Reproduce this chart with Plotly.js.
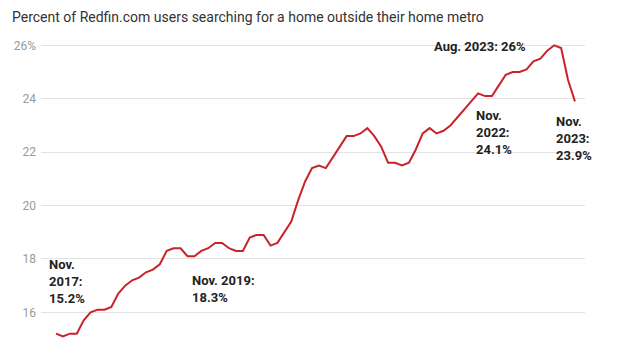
<!DOCTYPE html>
<html>
<head>
<meta charset="utf-8">
<script src="https://cdn.plot.ly/plotly-3.0.1.min.js"></script>
<style>html,body{margin:0;padding:0;background:#fff;}#chart{width:618px;height:357px;}</style>
</head>
<body>
<div id="chart"></div>
<script>
// Monthly, Aug 2017 – Nov 2023
const months = [
  "2017-08","2017-09","2017-10","2017-11","2017-12",
  "2018-01","2018-02","2018-03","2018-04","2018-05","2018-06","2018-07","2018-08","2018-09","2018-10","2018-11","2018-12",
  "2019-01","2019-02","2019-03","2019-04","2019-05","2019-06","2019-07","2019-08","2019-09","2019-10","2019-11","2019-12",
  "2020-01","2020-02","2020-03","2020-04","2020-05","2020-06","2020-07","2020-08","2020-09","2020-10","2020-11","2020-12",
  "2021-01","2021-02","2021-03","2021-04","2021-05","2021-06","2021-07","2021-08","2021-09","2021-10","2021-11","2021-12",
  "2022-01","2022-02","2022-03","2022-04","2022-05","2022-06","2022-07","2022-08","2022-09","2022-10","2022-11","2022-12",
  "2023-01","2023-02","2023-03","2023-04","2023-05","2023-06","2023-07","2023-08","2023-09","2023-10","2023-11"
];
const sharePct = [
  15.2,15.1,15.2,15.2,15.7,
  16.0,16.1,16.1,16.2,16.7,17.0,17.2,17.3,17.5,17.6,17.8,18.3,
  18.4,18.4,18.1,18.1,18.3,18.4,18.6,18.6,18.4,18.3,18.3,18.8,
  18.9,18.9,18.5,18.6,19.0,19.4,20.2,20.9,21.4,21.5,21.4,21.8,
  22.2,22.6,22.6,22.7,22.9,22.6,22.2,21.6,21.6,21.5,21.6,22.1,
  22.7,22.9,22.7,22.8,23.0,23.3,23.6,23.9,24.2,24.1,24.1,24.5,
  24.9,25.0,25.0,25.1,25.4,25.5,25.8,26.0,25.9,24.7,23.9
];
const tickVals = [16,18,20,22,24,26];
const tickText = ["16","18","20","22","24","26%"];
const noteText = [
  "Nov.<br>2017:<br>15.2%",
  "Nov. 2019:<br>18.3%",
  "Aug. 2023: 26%",
  "Nov.<br>2022:<br>24.1%",
  "Nov.<br>2023:<br>23.9%"
];
const titleText = "Percent of Redfin.com users searching for a home outside their home metro";

const xIdx = months.map((m,i)=>i);

const trace = {
  x: xIdx, y: sharePct, type: "scatter", mode: "lines",
  line: {color: "#c9232a", width: 2},
  hoverinfo: "skip"
};

const noteFont = {family: "Roboto, sans-serif", size: 13, color: "#222"};
const notePos = [
  {x: -1.3, y: 17.14},
  {x: 19.36, y: 16.86},
  {x: 54.3, y: 25.97},
  {x: 60.4, y: 22.75},
  {x: 71.97, y: 22.52}
];
const annotations = notePos.map((p,i)=>({
  x: p.x, y: p.y, xref: "x", yref: "y", text: "<b>"+noteText[i]+"</b>",
  showarrow: false, xanchor: "left", yanchor: "middle", align: "left", font: noteFont
}));
annotations.push({
  x: 0, y: 1, xref: "paper", yref: "paper", xanchor: "left", yanchor: "middle",
  xshift: -31, yshift: 27, text: titleText, showarrow: false, align: "left",
  font: {family: "Roboto, sans-serif", size: 14, color: "#333"}
});

const layout = {
  width: 618, height: 357,
  margin: {l: 41, r: 33, t: 44, b: 18},
  paper_bgcolor: "#fff", plot_bgcolor: "#fff",
  showlegend: false,
  xaxis: {range: [-2.17, 76.45], showgrid: false, zeroline: false, showticklabels: false, showline: false, ticks: ""},
  yaxis: {
    range: [15.0, 26.05], tickvals: tickVals, ticktext: tickText,
    showgrid: true, gridcolor: "#e3e3e3", gridwidth: 1, zeroline: false, showline: false, ticks: "",
    ticklabelstandoff: 4,
    tickfont: {family: "Roboto, sans-serif", size: 12, color: "#999"}
  },
  annotations: annotations
};

Plotly.newPlot("chart", [trace], layout, {displayModeBar: false, staticPlot: true});
</script>
</body>
</html>
